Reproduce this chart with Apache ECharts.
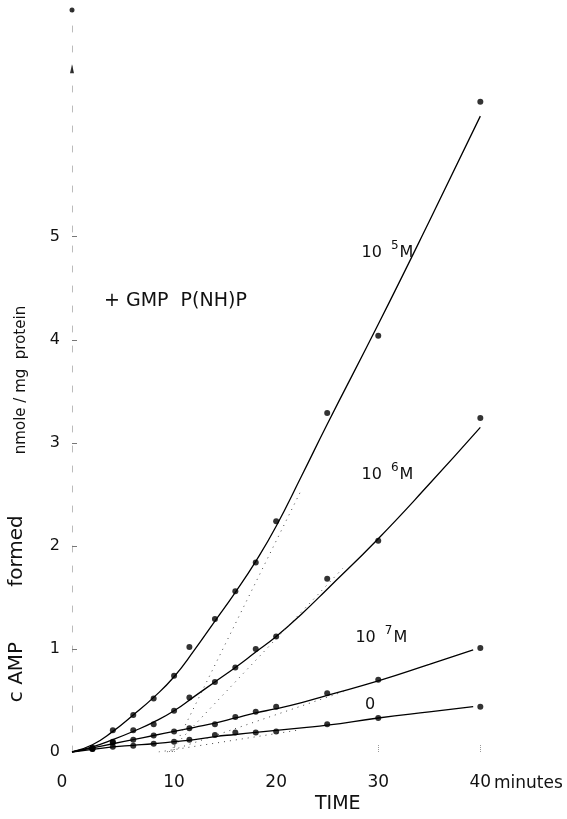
<!DOCTYPE html>
<html>
<head>
<meta charset="utf-8">
<script src="https://cdn.jsdelivr.net/npm/echarts@6/dist/echarts.min.js"></script>
<style>
  html, body { margin: 0; padding: 0; background: #fff; }
  #chart { width: 567px; height: 819px; }
</style>
</head>
<body>
<div id="chart"></div>
<script type="text/javascript">

// sampling times (minutes)
var times = [2, 4, 6, 8, 10, 11.5, 14, 16, 18, 20, 25, 30, 40];
// measured cAMP, nmole / mg protein
var pts5 = [0.04, 0.21, 0.36, 0.52, 0.74, 1.02, 1.29, 1.56, 1.84, 2.24, 3.29, 4.04, 6.31];
var pts6 = [0.04, 0.10, 0.21, 0.27, 0.40, 0.53, 0.68, 0.82, 1.00, 1.12, 1.68, 2.05, 3.24];
var pts7 = [0.03, 0.09, 0.12, 0.16, 0.20, 0.23, 0.27, 0.34, 0.39, 0.44, 0.57, 0.70, 1.01];
var pts0 = [0.03, 0.05, 0.06, 0.08, 0.10, 0.12, 0.165, 0.19, 0.19, 0.20, 0.27, 0.33, 0.44];

// hand drawn curves
var fitT  = [0, 2, 4, 6, 8, 10, 12, 14, 16, 18, 20, 22.5, 25, 30, 35, 40];
var fitT2 = [0, 2, 4, 6, 8, 10, 12, 14, 16, 18, 20, 22.5, 25, 30, 35, 39.3];
var fit5 = [0, 0.07, 0.2, 0.36, 0.53, 0.73, 0.99, 1.27, 1.55, 1.85, 2.19, 2.68, 3.18, 4.15, 5.15, 6.17];
var fit6 = [0, 0.05, 0.12, 0.2, 0.29, 0.4, 0.54, 0.68, 0.82, 0.97, 1.12, 1.34, 1.58, 2.07, 2.6, 3.15];
var fit7 = [0, 0.04, 0.08, 0.12, 0.16, 0.2, 0.24, 0.28, 0.33, 0.38, 0.42, 0.48, 0.55, 0.69, 0.85, 0.99];
var fit0 = [0, 0.025, 0.05, 0.065, 0.08, 0.1, 0.12, 0.15, 0.17, 0.19, 0.21, 0.235, 0.26, 0.33, 0.39, 0.44];

// dotted extrapolations [start, end]
var dot5 = [[9.8, 0], [22.5, 2.55]];
var dot6 = [[9.5, 0], [26.5, 1.78]];
var dot7 = [[9.3, 0], [27, 0.6]];
var dot0 = [[8.5, 0], [22, 0.21]];

var yTicks = [0, 1, 2, 3, 4, 5];
var xTicks = [0, 10, 20, 30, 40];

// curve labels: [t, value, exponent]
var curveLabels = [[30.9, 4.84, '5'], [30.9, 2.69, '6'], [30.3, 1.11, '7']];
var zeroLabel = [29.2, 0.46];

var font = 'DejaVu Sans';

function pairs(xs, ys) {
    var out = [];
    for (var i = 0; i < xs.length; i++) {
        out.push([xs[i], ys[i]]);
    }
    return out;
}

function pointSeries(ys) {
    return {
        type: 'scatter',
        data: pairs(times, ys),
        symbol: 'circle',
        symbolSize: 6,
        itemStyle: { color: '#000' },
        silent: true,
        z: 5
    };
}

function curveSeries(xs, ys) {
    return {
        type: 'line',
        data: pairs(xs, ys),
        smooth: 0.5,
        showSymbol: false,
        lineStyle: { color: '#000', width: 1.3 },
        silent: true
    };
}

function dotSeries(d) {
    return {
        type: 'line',
        data: d,
        showSymbol: false,
        lineStyle: { color: '#444', width: 1, type: [1, 5] },
        silent: true
    };
}

var labelPoints = [];
for (var i = 0; i < curveLabels.length; i++) {
    var c = curveLabels[i];
    labelPoints.push({
        coord: [c[0], c[1]],
        label: { formatter: '{n|10}{s|' + c[2] + '}{n|M}' }
    });
}
labelPoints.push({
    coord: zeroLabel,
    label: { formatter: '{n|0}' }
});

function vText(x, y, text, size) {
    return {
        type: 'text', x: x, y: y, rotation: Math.PI / 2,
        style: {
            text: text,
            font: size + 'px "DejaVu Sans"',
            fill: '#111',
            align: 'center',
            verticalAlign: 'middle'
        }
    };
}

var myChart = echarts.init(document.getElementById('chart'));
var option = {
    animation: false,
    backgroundColor: '#fff',
    grid: { left: 72, right: 5, top: 10, bottom: 67 },
    xAxis: {
        type: 'value',
        min: 0,
        max: 48,
        interval: 10,
        axisLine: { show: false },
        splitLine: { show: false },
        axisTick: {
            show: true, inside: true, length: 7,
            customValues: [10, 30, 40],
            lineStyle: { color: '#999', type: 'dotted' }
        },
        axisLabel: {
            customValues: xTicks,
            margin: 22,
            fontFamily: font,
            fontSize: 17,
            color: '#111',
            formatter: function (v) {
                return v === 0 ? '{z|0}' : String(v);
            },
            rich: {
                z: { fontFamily: font, fontSize: 17, color: '#111', padding: [0, 20, 0, 0] }
            }
        }
    },
    yAxis: {
        type: 'value',
        min: 0,
        max: 7.2,
        interval: 1,
        axisLine: {
            show: true, onZero: false,
            lineStyle: { color: '#bbb', width: 1, type: [6, 14] }
        },
        splitLine: { show: false },
        axisTick: {
            show: true, inside: true, length: 5,
            customValues: [1, 2, 3, 4, 5],
            lineStyle: { color: '#777' }
        },
        axisLabel: {
            customValues: yTicks,
            margin: 12,
            fontFamily: font,
            fontSize: 16,
            color: '#111'
        }
    },
    graphic: [
        {
            type: 'text', left: 104, top: 292,
            style: { text: '+ GMP  P(NH)P', font: '19px "DejaVu Sans"', fill: '#111' }
        },
        {
            type: 'text', left: 315, top: 795,
            style: { text: 'TIME', font: '19px "DejaVu Sans"', fill: '#111' }
        },
        {
            type: 'text', left: 494, top: 775,
            style: { text: 'minutes', font: '17px "DejaVu Sans"', fill: '#111' }
        },
        vText(17, 672, 'c AMP', 20),
        vText(17, 551, 'formed', 20),
        vText(21, 380, 'nmole / mg  protein', 15)
    ],
    series: [
        curveSeries(fitT, fit5),
        curveSeries(fitT, fit6),
        curveSeries(fitT2, fit7),
        curveSeries(fitT2, fit0),
        dotSeries(dot5),
        dotSeries(dot6),
        dotSeries(dot7),
        dotSeries(dot0),
        pointSeries(pts5),
        pointSeries(pts6),
        pointSeries(pts7),
        pointSeries(pts0),
        {
            // marks at the top of the ordinate
            type: 'scatter',
            data: [
                { value: [0, 7.2], symbol: 'circle', symbolSize: 5 },
                { value: [0, 6.63], symbol: 'triangle', symbolSize: [4, 9] }
            ],
            itemStyle: { color: '#000' },
            silent: true,
            markPoint: {
                symbol: 'circle',
                symbolSize: 0,
                silent: true,
                label: {
                    show: true,
                    position: 'inside',
                    color: '#111',
                    rich: {
                        n: { fontFamily: font, fontSize: 16, color: '#111' },
                        s: { fontFamily: font, fontSize: 12, color: '#111', padding: [0, 1, 14, 9] }
                    }
                },
                data: labelPoints
            }
        }
    ]
};
myChart.setOption(option);

</script>
</body>
</html>
